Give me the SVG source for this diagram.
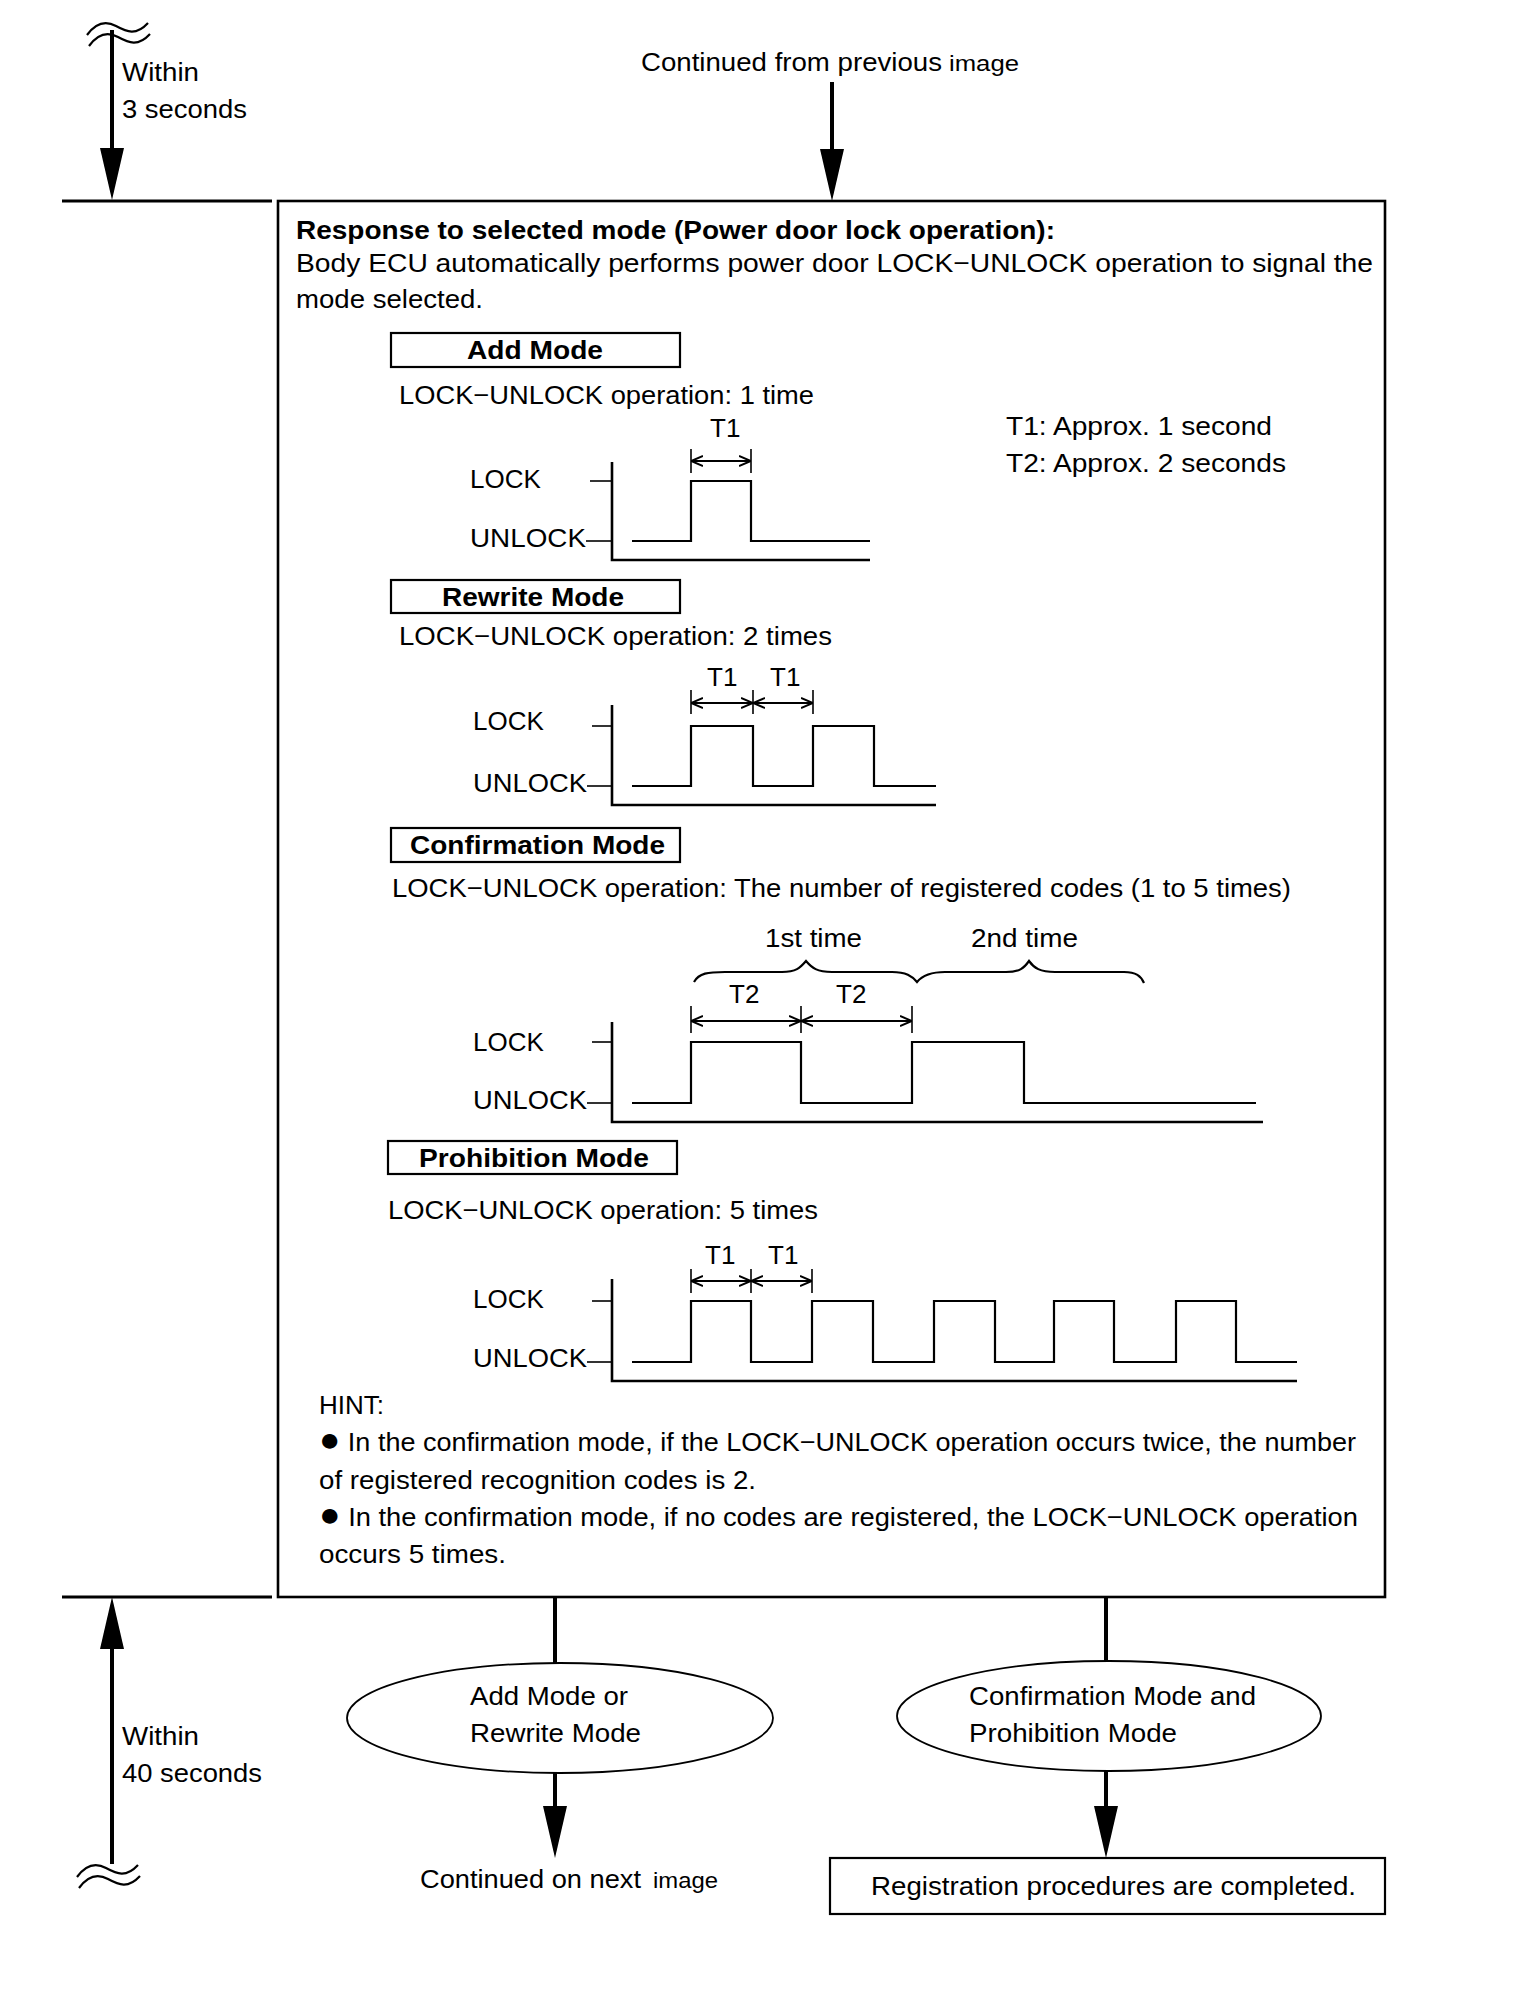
<svg xmlns="http://www.w3.org/2000/svg" width="1536" height="2010" viewBox="0 0 1536 2010">
<style>
text{font-family:"Liberation Sans",Arial,"DejaVu Sans",sans-serif;font-size:26px;fill:#000}
.b{font-weight:bold}
.sm{font-size:22px}
.bul{font-size:34px}
.sig{fill:none;stroke:#000;stroke-width:2.2}
.ax{fill:none;stroke:#000;stroke-width:2.6}
.tk{fill:none;stroke:#000;stroke-width:1.6}
.dim{fill:none;stroke:#000;stroke-width:2;marker-start:url(#oa);marker-end:url(#oa)}
.conn{fill:none;stroke:#000;stroke-width:4;marker-end:url(#ah)}
.ln{fill:none;stroke:#000;stroke-width:3}
.box{fill:#fff;stroke:#000;stroke-width:2.2}
.wave{fill:none;stroke:#000;stroke-width:2.2}
.ell{fill:#fff;stroke:#000;stroke-width:1.8}
</style>
<defs>
<marker id="oa" viewBox="0 0 12 12" refX="12" refY="6" markerWidth="12" markerHeight="12" markerUnits="userSpaceOnUse" orient="auto-start-reverse"><path d="M0,1 L12,6 L0,11" fill="none" stroke="#000" stroke-width="2"/></marker>
<marker id="ah" viewBox="0 0 52 24" refX="0" refY="12" markerWidth="52" markerHeight="24" markerUnits="userSpaceOnUse" orient="auto"><path d="M0,0 L52,12 L0,24 z" fill="#000"/></marker>
</defs>

<g id="connectors">
<line class="conn" x1="112" y1="30" x2="112" y2="148"/>
<line class="conn" x1="832" y1="82" x2="832" y2="149"/>
<line class="ln" x1="62" y1="201" x2="272" y2="201"/>
<line class="ln" x1="62" y1="1597" x2="272" y2="1597"/>
<line class="conn" x1="112" y1="1864" x2="112" y2="1649"/>
<line x1="555" y1="1597" x2="555" y2="1663" stroke="#000" stroke-width="4"/>
<line class="conn" x1="555" y1="1773" x2="555" y2="1806"/>
<line x1="1106" y1="1597" x2="1106" y2="1661" stroke="#000" stroke-width="4"/>
<line class="conn" x1="1106" y1="1771" x2="1106" y2="1806"/>
</g>

<g id="time-top">
<path class="wave" d="M87,35 C95,24 105,20 116,26 C127,32 136,36 148,23"/>
<path class="wave" d="M89,46 C97,35 107,31 118,37 C129,43 138,47 150,34"/>
<text x="122" y="81" textLength="77" lengthAdjust="spacingAndGlyphs">Within</text>
<text x="122" y="118" textLength="125" lengthAdjust="spacingAndGlyphs">3 seconds</text>
</g>

<g id="continued-from">
<text x="641" y="71" textLength="301" lengthAdjust="spacingAndGlyphs">Continued from previous</text>
<text class="sm" x="949" y="71" textLength="70" lengthAdjust="spacingAndGlyphs">image</text>
</g>

<g id="main-box">
<rect x="278" y="201" width="1107" height="1396" fill="none" stroke="#000" stroke-width="2.6"/>
<text class="b" x="296" y="239" textLength="759" lengthAdjust="spacingAndGlyphs">Response to selected mode (Power door lock operation):</text>
<text x="296" y="272" textLength="1077" lengthAdjust="spacingAndGlyphs">Body ECU automatically performs power door LOCK−UNLOCK operation to signal the</text>
<text x="296" y="308" textLength="187" lengthAdjust="spacingAndGlyphs">mode selected.</text>

<text x="1006" y="435" textLength="266" lengthAdjust="spacingAndGlyphs">T1: Approx. 1 second</text>
<text x="1006" y="472" textLength="280" lengthAdjust="spacingAndGlyphs">T2: Approx. 2 seconds</text>
</g>

<g id="add-mode">
<rect class="box" x="391" y="333" width="289" height="34"/>
<text class="b" x="467" y="359" textLength="136" lengthAdjust="spacingAndGlyphs">Add Mode</text>
<text x="399" y="404" textLength="415" lengthAdjust="spacingAndGlyphs">LOCK−UNLOCK operation: 1 time</text>
<text x="710" y="437">T1</text>
<line class="tk" x1="691" y1="449" x2="691" y2="473"/>
<line class="tk" x1="751" y1="449" x2="751" y2="473"/>
<line class="dim" x1="691" y1="461" x2="751" y2="461"/>
<text x="470" y="488">LOCK</text>
<text x="470" y="547" textLength="116" lengthAdjust="spacingAndGlyphs">UNLOCK</text>
<line class="tk" x1="590" y1="481" x2="612" y2="481"/>
<line class="tk" x1="586" y1="541" x2="612" y2="541"/>
<polyline class="ax" points="612,462 612,560 870,560"/>
<polyline class="sig" points="632,541 691,541 691,481 751,481 751,541 870,541"/>
</g>

<g id="rewrite-mode">
<rect class="box" x="391" y="580" width="289" height="33"/>
<text class="b" x="442" y="606" textLength="182" lengthAdjust="spacingAndGlyphs">Rewrite Mode</text>
<text x="399" y="645" textLength="433" lengthAdjust="spacingAndGlyphs">LOCK−UNLOCK operation: 2 times</text>
<text x="707" y="686">T1</text>
<text x="770" y="686">T1</text>
<line class="tk" x1="691" y1="690" x2="691" y2="714"/>
<line class="tk" x1="753" y1="690" x2="753" y2="714"/>
<line class="tk" x1="813" y1="690" x2="813" y2="714"/>
<line class="dim" x1="691" y1="703" x2="753" y2="703"/>
<line class="dim" x1="753" y1="703" x2="813" y2="703"/>
<text x="473" y="730">LOCK</text>
<text x="473" y="792" textLength="114" lengthAdjust="spacingAndGlyphs">UNLOCK</text>
<line class="tk" x1="592" y1="726" x2="612" y2="726"/>
<line class="tk" x1="587" y1="786" x2="612" y2="786"/>
<polyline class="ax" points="612,705 612,805 936,805"/>
<polyline class="sig" points="632,786 691,786 691,726 753,726 753,786 813,786 813,726 874,726 874,786 936,786"/>
</g>

<g id="confirmation-mode">
<rect class="box" x="391" y="828" width="289" height="34"/>
<text class="b" x="410" y="854" textLength="255" lengthAdjust="spacingAndGlyphs">Confirmation Mode</text>
<text x="392" y="897" textLength="899" lengthAdjust="spacingAndGlyphs">LOCK−UNLOCK operation: The number of registered codes (1 to 5 times)</text>
<text x="765" y="947" textLength="97" lengthAdjust="spacingAndGlyphs">1st time</text>
<text x="971" y="947" textLength="107" lengthAdjust="spacingAndGlyphs">2nd time</text>
<path class="sig" d="M694,982 C699,973 708,972 725,972 L782,972 C796,972 800,968 806,961 C812,968 817,972 832,972 L892,972 C906,972 912,976 917,982 C922,976 930,972 945,972 L1006,972 C1020,972 1024,968 1029,961 C1034,968 1040,972 1055,972 L1124,972 C1136,972 1141,976 1144,983"/>
<text x="729" y="1003">T2</text>
<text x="836" y="1003">T2</text>
<line class="tk" x1="691" y1="1006" x2="691" y2="1033"/>
<line class="tk" x1="801" y1="1006" x2="801" y2="1033"/>
<line class="tk" x1="912" y1="1006" x2="912" y2="1033"/>
<line class="dim" x1="691" y1="1021" x2="801" y2="1021"/>
<line class="dim" x1="801" y1="1021" x2="912" y2="1021"/>
<text x="473" y="1051">LOCK</text>
<text x="473" y="1109" textLength="114" lengthAdjust="spacingAndGlyphs">UNLOCK</text>
<line class="tk" x1="592" y1="1042" x2="612" y2="1042"/>
<line class="tk" x1="587" y1="1103" x2="612" y2="1103"/>
<polyline class="ax" points="612,1022 612,1122 1263,1122"/>
<polyline class="sig" points="632,1103 691,1103 691,1042 801,1042 801,1103 912,1103 912,1042 1024,1042 1024,1103 1256,1103"/>
</g>

<g id="prohibition-mode">
<rect class="box" x="388" y="1141" width="289" height="33"/>
<text class="b" x="419" y="1167" textLength="230" lengthAdjust="spacingAndGlyphs">Prohibition Mode</text>
<text x="388" y="1219" textLength="430" lengthAdjust="spacingAndGlyphs">LOCK−UNLOCK operation: 5 times</text>
<text x="705" y="1264">T1</text>
<text x="768" y="1264">T1</text>
<line class="tk" x1="691" y1="1269" x2="691" y2="1293"/>
<line class="tk" x1="751" y1="1269" x2="751" y2="1293"/>
<line class="tk" x1="812" y1="1269" x2="812" y2="1293"/>
<line class="dim" x1="691" y1="1281" x2="751" y2="1281"/>
<line class="dim" x1="751" y1="1281" x2="812" y2="1281"/>
<text x="473" y="1308">LOCK</text>
<text x="473" y="1367" textLength="114" lengthAdjust="spacingAndGlyphs">UNLOCK</text>
<line class="tk" x1="592" y1="1301" x2="612" y2="1301"/>
<line class="tk" x1="587" y1="1362" x2="612" y2="1362"/>
<polyline class="ax" points="612,1279 612,1381 1297,1381"/>
<polyline class="sig" points="632,1362 691,1362 691,1301 751,1301 751,1362 812,1362 812,1301 873,1301 873,1362 934,1362 934,1301 995,1301 995,1362 1054,1362 1054,1301 1114,1301 1114,1362 1176,1362 1176,1301 1236,1301 1236,1362 1297,1362"/>
</g>

<g id="hint">
<text x="319" y="1414">HINT:</text>
<text x="319" y="1451" textLength="1037" lengthAdjust="spacingAndGlyphs"><tspan class="bul">●</tspan> In the confirmation mode, if the LOCK−UNLOCK operation occurs twice, the number</text>
<text x="319" y="1489" textLength="437" lengthAdjust="spacingAndGlyphs">of registered recognition codes is 2.</text>
<text x="319" y="1526" textLength="1039" lengthAdjust="spacingAndGlyphs"><tspan class="bul">●</tspan> In the confirmation mode, if no codes are registered, the LOCK−UNLOCK operation</text>
<text x="319" y="1563" textLength="187" lengthAdjust="spacingAndGlyphs">occurs 5 times.</text>
</g>

<g id="time-bottom">
<path class="wave" d="M77,1877 C85,1866 95,1862 106,1868 C117,1874 126,1878 138,1865"/>
<path class="wave" d="M79,1888 C87,1877 97,1873 108,1879 C119,1885 128,1889 140,1876"/>
<text x="122" y="1745" textLength="77" lengthAdjust="spacingAndGlyphs">Within</text>
<text x="122" y="1782" textLength="140" lengthAdjust="spacingAndGlyphs">40 seconds</text>
</g>

<g id="add-or-rewrite">
<ellipse class="ell" cx="560" cy="1718" rx="213" ry="55"/>
<text x="470" y="1705" textLength="158" lengthAdjust="spacingAndGlyphs">Add Mode or</text>
<text x="470" y="1742" textLength="171" lengthAdjust="spacingAndGlyphs">Rewrite Mode</text>
</g>

<g id="continued-next">
<text x="420" y="1888" textLength="221" lengthAdjust="spacingAndGlyphs">Continued on next</text>
<text class="sm" x="653" y="1888" textLength="65" lengthAdjust="spacingAndGlyphs">image</text>
</g>

<g id="confirm-and-prohibit">
<ellipse class="ell" cx="1109" cy="1716" rx="212" ry="55"/>
<text x="969" y="1705" textLength="287" lengthAdjust="spacingAndGlyphs">Confirmation Mode and</text>
<text x="969" y="1742" textLength="208" lengthAdjust="spacingAndGlyphs">Prohibition Mode</text>
</g>

<g id="completed">
<rect class="box" x="830" y="1858" width="555" height="56"/>
<text x="871" y="1895" textLength="485" lengthAdjust="spacingAndGlyphs">Registration procedures are completed.</text>
</g>
</svg>
